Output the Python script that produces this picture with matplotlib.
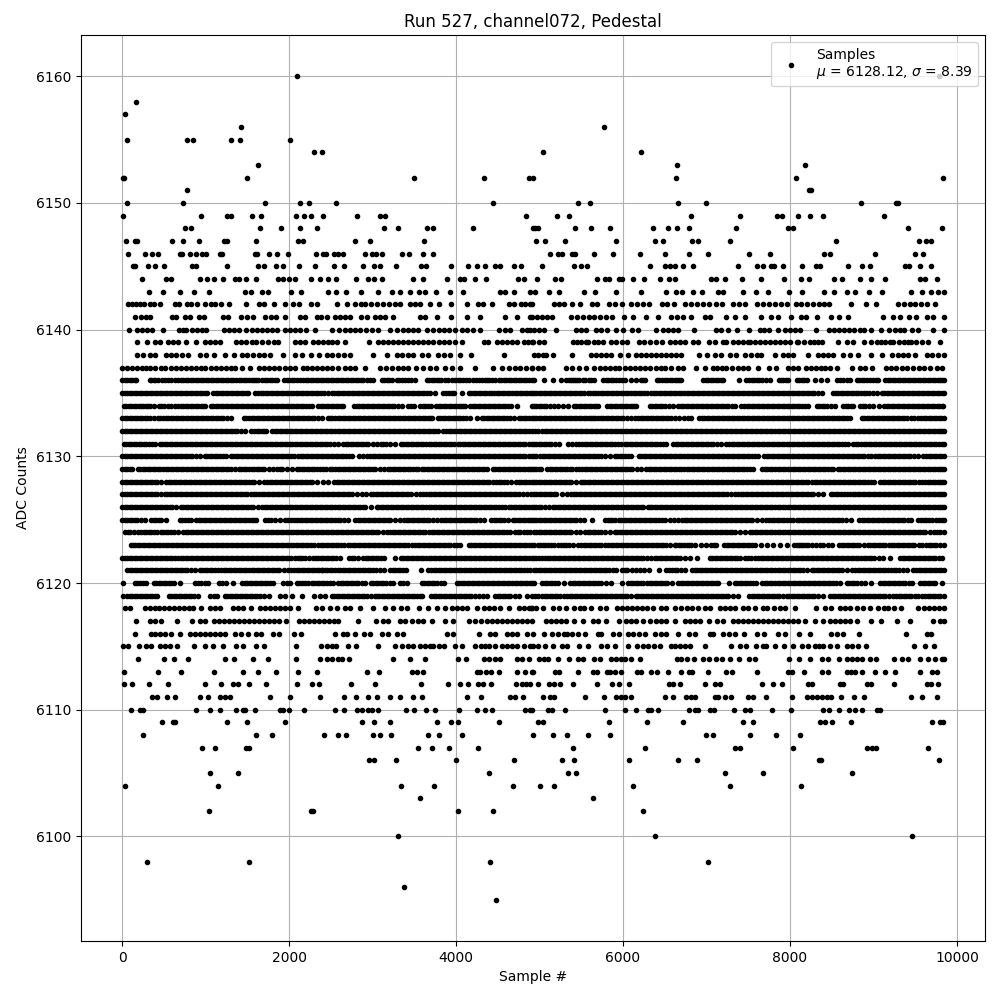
#!/usr/bin/env python
# -*- coding: utf-8 -*-

import numpy as np
import matplotlib
matplotlib.use('Agg')
import matplotlib.pyplot as plt

RUN = 527
CHANNEL = 'channel072'
MU = 6128.12
SIGMA = 8.39

# sample numbers, one list per ADC count
x_6160 = [2100, 9786]
x_6158 = [172]
x_6157 = [30]
x_6156 = [1420, 5766]
x_6155 = [53, 773, 845, 1300, 1409, 2009]
x_6154 = [2297, 2393, 5046, 6210]
x_6153 = [1625, 6642, 8178]
x_6152 = [5, 20, 1493, 3497, 4337, 4877, 4926, 6630, 8070, 9834]
x_6151 = [773, 8226, 8250]
x_6150 = [53, 725, 1709, 2129, 2237, 2561, 4445, 5466, 5610, 6654, 6990, 8850, 9270, 9294]
x_6149 = [5, 941, 1253, 1301, 1553, 1661, 2081, 2177, 2261, 2405, 2813, 3089, 3149, 4841,
          5214, 5358, 6810, 7398, 7842, 7902, 8094, 8238, 8394, 9126]
x_6148 = [749, 821, 1649, 1901, 2129, 2333, 3137, 3305, 3653, 3725, 4205, 4926, 4950, 4986,
          5430, 5622, 5838, 6354, 6534, 6642, 6786, 7350, 7974, 8034, 9414, 9822]
x_6147 = [41, 149, 173, 593, 725, 917, 1217, 1253, 1601, 2105, 2165, 2789, 2969, 3617,
          4962, 5070, 5310, 5910, 6378, 6474, 6822, 6894, 7278, 8550, 9546, 9630, 9690]
x_6146 = [65, 269, 353, 425, 689, 713, 809, 881, 953, 1001, 1169, 1193, 1589, 1613, 1757, 1853,
          1985, 2321, 2405, 2441, 2537, 2585, 2645, 2909, 2993, 3041, 3113, 3357, 3437, 3605, 3725,
          5130, 5226, 5274, 5394, 5430, 5658, 5874, 6198, 6498, 6786, 7014, 7506, 7758, 8406, 8478,
          9018, 9498, 9594]
x_6145 = [125, 149, 305, 389, 497, 833, 881, 1253, 1625, 1697, 1841, 1925, 2117, 2309, 2537, 2657,
          2885, 3017, 3089, 3281, 3581, 3641, 3941, 4145, 4253, 4349, 4469, 4529, 4697, 4781,
          5034, 5418, 5502, 5574, 6318, 6498, 6558, 6618, 6714, 6834, 7374, 7602, 7674, 7770, 7806,
          7914, 8142, 8310, 8358, 8694, 8862, 8958, 9378, 9426, 9558, 9690]
x_6144 = [233, 521, 581, 929, 1013, 1097, 1205, 1349, 1397, 1481, 1601, 1865, 1925, 1997, 2069,
          2257, 2369, 2465, 2561, 2801, 2945, 3017, 3113, 3485, 3605, 3893, 4049, 4097, 4229, 4361,
          4745, 4817, 4974, 5190, 5262, 5694, 5778, 5826, 5946, 5982, 6114, 6246, 6438, 6546, 6618,
          7050, 7110, 7218, 7422, 7650, 7926, 8130, 8226, 8526, 8622, 8838, 8970, 9138, 9558, 9618, 9762]
x_6143 = [317, 485, 689, 857, 1037, 1469, 1541, 1673, 1745, 2021, 2145, 2465, 2561, 2681, 2861,
          3065, 3233, 3329, 3449, 3557, 3629, 3761, 3929, 4085, 4529, 4589, 4697, 4889,
          4950, 5118, 5238, 5538, 5670, 5910, 6210, 6510, 6630, 6702, 6834, 6942, 7134, 7194, 7434,
          7590, 7734, 7986, 8142, 8406, 8526, 8682, 8778, 8946, 9102, 9450, 9582, 9690, 9774, 9843]
x_6142 = [65, 113, 161, 209, 257, 329, 377, 449, 629, 677, 773, 821, 893, 989, 1061, 1109, 1181,
          1277, 1481, 1637, 1697, 1817, 1949, 2045, 2117, 2261, 2333, 2573, 2693, 2789, 2861, 2909,
          2981, 3053, 3125, 3197, 3269, 3329, 3449, 3509, 3569, 3689, 3797, 3941, 4133, 4265, 4325,
          4433, 4637, 4697, 4781, 4829, 4889,
          4914, 5178, 5238, 5298, 5394, 5490, 5634, 5694, 5826, 5898, 5982, 6090, 6162, 6234, 6306,
          6462, 6522, 6606, 6738, 6810, 6882, 6954, 7026, 7110, 7182, 7314, 7386, 7458, 7602, 7674,
          7746, 7818, 7890, 7962, 8070, 8130, 8202, 8274, 8346, 8406, 8466, 8730, 8910, 9030, 9294,
          9366, 9438, 9498, 9570, 9642, 9738]
x_6141 = [149, 221, 281, 329, 593, 641, 749, 809, 917, 977, 1205, 1265, 1421, 1493, 1565, 1709,
          1781, 1841, 1949, 2129, 2189, 2333, 2381, 2453, 2549, 2609, 2669, 2729, 2861, 2933, 3029,
          3089, 3149, 3245, 3569, 3629, 3773, 3941, 4133, 4289, 4589, 4733, 4889,
          4914, 4974, 5034, 5094, 5154, 5382, 5454, 5526, 5598, 5658, 5718, 5790, 5862, 6006, 6114,
          6270, 6414, 6570, 6642, 6714, 6810, 6978, 7038, 7230, 7338, 7458, 7650, 7770, 7854, 8010,
          8130, 8190, 8322, 8490, 8586, 8694, 9114, 9234, 9318, 9426, 9510, 9642, 9714, 9840]
x_6140 = [77, 181, 240, 300, 357, 485, 677, 730, 769, 841, 900, 960, 1009, 1221, 1280, 1340, 1400,
          1489, 1561, 1620, 1680, 1740, 1800, 1860, 1949, 2009, 2069, 2129, 2197, 2309, 2509, 2597,
          2669, 2729, 2790, 2850, 2920, 2989, 3069, 3209, 3289, 3369, 3430, 3490, 3550, 3649, 3729,
          3790, 3850, 3920, 3989, 4069, 4130, 4200, 4289, 4517, 4589, 4649, 4789, 4850, 4889,
          4930, 4998, 5058, 5202, 5438, 5500, 5558, 5678, 5740, 5810, 5918, 5998, 6110, 6178, 6390,
          6478, 6540, 6600, 6658, 6846, 7118, 7170, 7258, 7362, 7506, 7638, 7690, 7746, 7850, 7938,
          8000, 8060, 8118, 8306, 8466, 8530, 8590, 8650, 8710, 8770, 8838, 8886, 8970, 9090, 9186,
          9258, 9318, 9370, 9458, 9538, 9714, 9840]
x_6139 = [181, 293, 389, 450, 549, 609, 670, 769, 889, 989, 1050, 1110, 1169, 1369, 1430, 1490, 1550,
          1609, 1680, 1750, 1820, 1869, 2069, 2130, 2189, 2289, 2350, 2410, 2469, 2509, 2570, 2669,
          2957, 3069, 3130, 3190, 3250, 3310, 3370, 3430, 3490, 3550, 3610, 3669, 3729, 3790, 3850,
          3920, 3990, 4069, 4329, 4381, 4489, 4550, 4610, 4669, 4729, 4809, 4860, 4909,
          4920, 4998, 5058, 5398, 5450, 5500, 5558, 5586, 5650, 5700, 5758, 5858, 5920, 5990, 6050,
          6186, 6250, 6320, 6390, 6466, 6558, 6620, 6680, 6740, 6838, 6898, 7026, 7106, 7198, 7238,
          7318, 7380, 7440, 7498, 7518, 7580, 7640, 7700, 7760, 7820, 7880, 7940, 8000, 8078, 8098,
          8170, 8238, 8290, 8340, 8386, 8578, 8678, 8758, 8886, 8970, 9038, 9090, 9140, 9198, 9238,
          9300, 9360, 9418, 9450, 9510, 9580, 9650, 9802]
x_6138 = [181, 249, 329, 389, 529, 590, 650, 720, 789, 929, 1009, 1097, 1229, 1341, 1437, 1500, 1570,
          1640, 1700, 1769, 1925, 2069, 2149, 2261, 2357, 2449, 2520, 2590, 2660, 2729, 3009, 3177,
          3289, 3350, 3420, 3490, 3590, 3669, 3789, 3860, 3930, 4049, 4181, 4573,
          4930, 4980, 5040, 5078, 5162, 5386, 5618, 5680, 5740, 5798, 5858, 5958, 6058, 6158, 6218,
          6280, 6340, 6400, 6460, 6520, 6580, 6640, 6698, 6906, 7006, 7106, 7178, 7286, 7358, 7458,
          7530, 7600, 7658, 7818, 7918, 7980, 8038, 8218, 8338, 8400, 8460, 8518, 8638, 8718, 8818,
          8966, 9098, 9226, 9290, 9350, 9418, 9498, 9638, 9700, 9770, 9843]
x_6137 = [0, 60, 120, 180, 240, 289, 329, 400, 469, 517, 580, 640, 700, 760, 820, 880, 949, 997, 1060,
          1120, 1180, 1240, 1300, 1357, 1437, 1529, 1641, 1700, 1760, 1820, 1880, 1950, 2009, 2069,
          2169, 2209, 2270, 2330, 2390, 2450, 2510, 2580, 2669, 2729, 2789, 2909, 3089, 3160, 3230,
          3300, 3369, 3421, 3517, 3600, 3689, 3757, 3869, 3949, 4049, 4221, 4437, 4549, 4629, 4700,
          4770, 4840, 4909,
          4910, 4980, 5038, 5318, 5386, 5470, 5558, 5658, 5718, 5778, 5840, 5898, 5946, 6018, 6080,
          6140, 6198, 6258, 6320, 6390, 6458, 6498, 6570, 6658, 6718, 6878, 6986, 7078, 7130, 7180,
          7238, 7306, 7378, 7440, 7498, 7618, 7746, 7826, 7970, 8030, 8098, 8186, 8250, 8310, 8370,
          8420, 8478, 8558, 8738, 8838, 8898, 8986, 9146, 9210, 9270, 9340, 9400, 9470, 9540, 9610,
          9680, 9758, 9826]
x_6136 = [0, 30, 60, 90, 120, 150, 169, 329, 350, 380, 400, 429, 481, 510, 550, 580, 629, 669, 700, 730,
          760, 790, 820, 850, 880, 910, 940, 970, 1000, 1030, 1060, 1090, 1120, 1150, 1180, 1210, 1240,
          1270, 1300, 1330, 1369, 1397, 1420, 1460, 1490, 1520, 1550, 1580, 1600, 1629, 1677, 1710,
          1740, 1770, 1800, 1830, 1861, 1937, 1970, 2000, 2030, 2060, 2090, 2129, 2169, 2200, 2230,
          2260, 2290, 2320, 2350, 2380, 2410, 2440, 2470, 2500, 2530, 2560, 2590, 2620, 2650, 2680,
          2710, 2740, 2770, 2800, 2829, 2861, 2890, 2930, 2970, 3009, 3109, 3140, 3170, 3200, 3229,
          3289, 3320, 3350, 3385, 3420, 3460, 3509, 3649, 3680, 3710, 3740, 3770, 3795, 3821, 3869,
          3900, 3949, 3989, 4020, 4050, 4085, 4120, 4160, 4197, 4237, 4270, 4309, 4349, 4375, 4400,
          4430, 4461, 4509, 4540, 4570, 4600, 4630, 4660, 4690, 4720, 4750, 4780, 4810, 4840, 4870, 4909,
          4930, 5050, 5162, 5258, 5318, 5350, 5380, 5405, 5430, 5454, 5478, 5518, 5550, 5590, 5620, 5658,
          5758, 5790, 5820, 5850, 5880, 5915, 5950, 5985, 6018, 6090, 6158, 6210, 6234, 6258, 6402,
          6436, 6470, 6500, 6530, 6560, 6590, 6620, 6650, 6675, 6698, 6958, 6990, 7020, 7050, 7080,
          7110, 7140, 7170, 7198, 7386, 7478, 7510, 7540, 7570, 7600, 7630, 7660, 7710, 7758, 7866,
          7893, 7920, 7950, 7978, 8078, 8110, 8140, 8170, 8198, 8298, 8370, 8438, 8558, 8600, 8640,
          8680, 8718, 8798, 8830, 8860, 8890, 8920, 8955, 8990, 9025, 9058, 9138, 9170, 9200, 9230,
          9260, 9290, 9320, 9350, 9380, 9410, 9440, 9470, 9500, 9530, 9560, 9590, 9620, 9650, 9680,
          9710, 9740, 9770, 9800, 9822, 9843]
x_6135 = [0, 30, 60, 90, 120, 150, 180, 210, 240, 270, 300, 330, 360, 390, 420, 450, 480, 509, 541, 570,
          600, 630, 660, 690, 720, 750, 780, 810, 840, 870, 900, 930, 960, 990, 1021, 1089, 1120, 1150,
          1180, 1210, 1240, 1270, 1300, 1330, 1360, 1390, 1420, 1450, 1480, 1509, 1597, 1630, 1660,
          1690, 1720, 1750, 1780, 1810, 1840, 1870, 1900, 1930, 1960, 1990, 2020, 2050, 2080, 2110,
          2140, 2170, 2200, 2230, 2260, 2290, 2320, 2350, 2380, 2420, 2461, 2509, 2540, 2570, 2600,
          2630, 2660, 2690, 2720, 2750, 2780, 2810, 2840, 2870, 2900, 2930, 2960, 2990, 3020, 3050,
          3080, 3110, 3140, 3170, 3200, 3230, 3260, 3290, 3320, 3350, 3380, 3410, 3440, 3470, 3500,
          3530, 3560, 3590, 3620, 3650, 3689, 3749, 3849, 3885, 3920, 3950, 3981, 4069, 4149, 4180,
          4210, 4240, 4270, 4300, 4330, 4360, 4390, 4420, 4449, 4489, 4520, 4550, 4580, 4610, 4640,
          4670, 4700, 4730, 4760, 4790, 4820, 4850, 4880, 4909, 4930, 4960, 4990, 5020, 5050, 5080,
          5110, 5140, 5170, 5200, 5230, 5260, 5290, 5320, 5350, 5380, 5410, 5440, 5470, 5500, 5538,
          5578, 5610, 5640, 5670, 5700, 5730, 5760, 5790, 5820, 5850, 5880, 5910, 5940, 5970, 6000,
          6030, 6060, 6098, 6130, 6160, 6190, 6220, 6250, 6290, 6330, 6370, 6400, 6430, 6460, 6490,
          6520, 6550, 6580, 6610, 6640, 6670, 6700, 6730, 6760, 6790, 6820, 6850, 6880, 6910, 6940,
          6970, 7000, 7030, 7060, 7090, 7120, 7150, 7180, 7210, 7240, 7270, 7300, 7330, 7360, 7390,
          7420, 7450, 7480, 7510, 7540, 7570, 7600, 7630, 7660, 7690, 7720, 7750, 7780, 7810, 7840,
          7870, 7900, 7930, 7960, 7990, 8020, 8050, 8080, 8110, 8140, 8170, 8200, 8230, 8260, 8290,
          8330, 8378, 8518, 8550, 8580, 8610, 8640, 8670, 8700, 8730, 8760, 8790, 8820, 8850, 8880,
          8910, 8940, 8990, 9038, 9098, 9130, 9160, 9190, 9220, 9250, 9280, 9310, 9340, 9370, 9400,
          9430, 9460, 9490, 9520, 9550, 9580, 9610, 9640, 9670, 9700, 9730, 9760, 9790, 9820, 9843]
x_6134 = [21, 50, 80, 110, 140, 170, 200, 225, 249, 289, 315, 340, 381, 437, 470, 500, 545, 589, 637, 670,
          700, 730, 760, 790, 820, 850, 880, 910, 940, 965, 989, 1061, 1090, 1120, 1150, 1180, 1210,
          1240, 1270, 1300, 1330, 1360, 1390, 1420, 1450, 1480, 1510, 1540, 1570, 1600, 1630, 1660,
          1690, 1720, 1750, 1780, 1810, 1840, 1870, 1900, 1930, 1960, 1990, 2020, 2050, 2080, 2110,
          2140, 2170, 2200, 2235, 2269, 2349, 2380, 2410, 2440, 2470, 2500, 2530, 2560, 2590, 2620,
          2649, 2781, 2810, 2840, 2870, 2900, 2930, 2960, 2990, 3020, 3050, 3080, 3110, 3140, 3170,
          3200, 3230, 3260, 3305, 3349, 3421, 3460, 3501, 3569, 3600, 3630, 3665, 3701, 3757, 3790,
          3820, 3850, 3880, 3910, 3940, 3970, 4000, 4030, 4060, 4085, 4109, 4169, 4200, 4230, 4260,
          4290, 4320, 4350, 4380, 4410, 4440, 4470, 4500, 4530, 4560, 4590, 4625, 4661, 4729, 4909,
          4930, 4960, 4990, 5020, 5050, 5080, 5130, 5178, 5226, 5278, 5346, 5410, 5440, 5470, 5500,
          5530, 5560, 5590, 5620, 5650, 5675, 5698, 5810, 5840, 5870, 5900, 5930, 5960, 5990, 6020,
          6050, 6080, 6110, 6135, 6158, 6318, 6350, 6380, 6410, 6440, 6470, 6500, 6550, 6598, 6658,
          6690, 6720, 6750, 6780, 6810, 6840, 6870, 6900, 6930, 6960, 6990, 7020, 7050, 7080, 7110,
          7140, 7170, 7200, 7230, 7260, 7300, 7338, 7418, 7450, 7480, 7510, 7540, 7570, 7600, 7630,
          7660, 7690, 7720, 7750, 7780, 7810, 7840, 7870, 7900, 7930, 7960, 7990, 8020, 8050, 8080,
          8110, 8140, 8180, 8218, 8318, 8350, 8380, 8410, 8440, 8490, 8538, 8638, 8670, 8700, 8730,
          8758, 8838, 8870, 8900, 8950, 8998, 9066, 9130, 9160, 9190, 9220, 9250, 9280, 9310, 9340,
          9370, 9400, 9430, 9460, 9490, 9520, 9550, 9580, 9610, 9640, 9670, 9700, 9730, 9760, 9790,
          9815, 9838]
x_6133 = [0, 30, 60, 90, 120, 150, 180, 210, 240, 270, 300, 340, 381, 429, 460, 490, 520, 550, 580, 610,
          640, 670, 700, 730, 760, 790, 820, 850, 880, 910, 940, 970, 1000, 1030, 1060, 1090, 1120, 1150,
          1180, 1210, 1260, 1309, 1461, 1490, 1520, 1550, 1580, 1610, 1640, 1670, 1700, 1730, 1760, 1790,
          1820, 1850, 1880, 1910, 1940, 1970, 2000, 2030, 2060, 2090, 2120, 2150, 2180, 2210, 2240, 2270,
          2300, 2345, 2389, 2461, 2490, 2520, 2550, 2580, 2610, 2640, 2670, 2700, 2730, 2760, 2790, 2820,
          2850, 2880, 2910, 2940, 2970, 3000, 3030, 3060, 3090, 3120, 3150, 3180, 3210, 3240, 3270, 3300,
          3330, 3360, 3390, 3420, 3450, 3480, 3510, 3540, 3570, 3600, 3630, 3660, 3690, 3717, 3781, 3810,
          3840, 3870, 3900, 3930, 3960, 3990, 4020, 4050, 4080, 4125, 4169, 4245, 4309, 4340, 4370, 4400,
          4430, 4460, 4490, 4520, 4550, 4580, 4610, 4650, 4689, 4749, 4780, 4810, 4840, 4870, 4909,
          4930, 4960, 4990, 5020, 5050, 5080, 5110, 5140, 5170, 5200, 5230, 5260, 5290, 5320, 5350, 5380,
          5410, 5440, 5470, 5500, 5530, 5560, 5590, 5618, 5642, 5670, 5700, 5730, 5760, 5790, 5820, 5850,
          5880, 5910, 5940, 5970, 6000, 6050, 6098, 6146, 6180, 6210, 6240, 6270, 6300, 6330, 6360, 6390,
          6420, 6450, 6480, 6510, 6540, 6570, 6620, 6666, 6730, 6775, 6818, 6906, 6940, 6970, 7000, 7030,
          7060, 7090, 7120, 7150, 7180, 7210, 7240, 7270, 7300, 7330, 7360, 7390, 7420, 7450, 7480, 7510,
          7540, 7570, 7600, 7630, 7660, 7690, 7720, 7750, 7780, 7810, 7840, 7870, 7900, 7930, 7960, 7990,
          8020, 8050, 8080, 8110, 8140, 8170, 8200, 8230, 8260, 8290, 8320, 8350, 8380, 8410, 8440, 8470,
          8500, 8530, 8560, 8590, 8620, 8650, 8685, 8718, 8858, 8890, 8920, 8950, 8980, 9010, 9040, 9070,
          9100, 9130, 9160, 9190, 9220, 9250, 9280, 9310, 9340, 9370, 9400, 9445, 9490, 9538, 9570, 9600,
          9630, 9660, 9690, 9720, 9750, 9780, 9810, 9843]
x_6132 = [0, 30, 60, 90, 120, 150, 180, 210, 240, 270, 300, 330, 360, 390, 420, 450, 480, 510, 540, 570,
          600, 630, 660, 690, 720, 750, 780, 810, 840, 870, 900, 930, 960, 990, 1020, 1050, 1080, 1110,
          1140, 1170, 1200, 1230, 1260, 1290, 1320, 1350, 1380, 1425, 1469, 1549, 1580, 1610, 1640, 1670,
          1700, 1729, 1797, 1830, 1860, 1890, 1920, 1950, 1980, 2010, 2040, 2070, 2100, 2130, 2160, 2190,
          2220, 2250, 2280, 2310, 2340, 2370, 2400, 2430, 2460, 2490, 2520, 2550, 2580, 2610, 2640, 2670,
          2700, 2730, 2760, 2790, 2820, 2850, 2880, 2910, 2940, 2970, 3000, 3030, 3060, 3090, 3120, 3150,
          3180, 3210, 3240, 3270, 3300, 3330, 3360, 3390, 3420, 3450, 3480, 3510, 3540, 3570, 3600, 3630,
          3660, 3690, 3720, 3750, 3781, 3845, 3880, 3910, 3940, 3970, 4000, 4030, 4060, 4090, 4120, 4150,
          4180, 4210, 4240, 4270, 4300, 4330, 4360, 4390, 4420, 4450, 4480, 4510, 4540, 4570, 4600, 4630,
          4660, 4690, 4720, 4750, 4780, 4810, 4840, 4870, 4909, 4950, 4978, 5026, 5060, 5090, 5120, 5150,
          5180, 5210, 5240, 5270, 5300, 5330, 5360, 5390, 5420, 5450, 5480, 5510, 5540, 5570, 5600, 5630,
          5660, 5690, 5720, 5750, 5780, 5810, 5840, 5870, 5900, 5930, 5960, 5990, 6020, 6050, 6080, 6110,
          6140, 6170, 6200, 6230, 6260, 6290, 6320, 6350, 6380, 6410, 6440, 6470, 6500, 6530, 6560, 6590,
          6620, 6650, 6680, 6710, 6740, 6770, 6800, 6830, 6860, 6890, 6920, 6950, 6980, 7010, 7040, 7070,
          7100, 7130, 7160, 7190, 7220, 7250, 7280, 7310, 7340, 7370, 7400, 7430, 7460, 7490, 7520, 7550,
          7580, 7610, 7640, 7670, 7700, 7730, 7760, 7790, 7820, 7850, 7880, 7910, 7940, 7970, 8000, 8030,
          8060, 8090, 8120, 8150, 8180, 8210, 8240, 8270, 8300, 8330, 8360, 8390, 8420, 8450, 8480, 8510,
          8540, 8570, 8600, 8630, 8660, 8690, 8720, 8750, 8780, 8810, 8840, 8870, 8900, 8930, 8960, 8990,
          9020, 9050, 9080, 9110, 9140, 9170, 9200, 9230, 9260, 9290, 9320, 9350, 9380, 9410, 9440, 9470,
          9500, 9530, 9560, 9590, 9620, 9650, 9680, 9710, 9740, 9770, 9800, 9825, 9843]
x_6131 = [21, 50, 80, 110, 140, 170, 200, 230, 260, 290, 320, 360, 397, 449, 480, 510, 540, 570, 600, 630,
          660, 690, 720, 750, 780, 810, 840, 870, 900, 930, 957, 989, 1020, 1050, 1080, 1110, 1140, 1170,
          1200, 1230, 1260, 1290, 1320, 1350, 1380, 1410, 1440, 1470, 1500, 1530, 1560, 1590, 1620, 1650,
          1680, 1710, 1740, 1770, 1800, 1830, 1860, 1890, 1920, 1950, 1980, 2010, 2040, 2070, 2100, 2130,
          2160, 2190, 2220, 2250, 2280, 2310, 2340, 2370, 2400, 2430, 2460, 2490, 2540, 2589, 2649, 2680,
          2710, 2740, 2770, 2800, 2830, 2860, 2890, 2920, 2950, 3000, 3049, 3101, 3130, 3160, 3209, 3269,
          3341, 3370, 3400, 3430, 3460, 3490, 3520, 3550, 3580, 3610, 3640, 3670, 3700, 3730, 3760, 3790,
          3820, 3850, 3880, 3910, 3940, 3980, 4021, 4049, 4080, 4110, 4140, 4170, 4200, 4230, 4260, 4290,
          4320, 4350, 4380, 4410, 4440, 4470, 4500, 4530, 4560, 4590, 4620, 4650, 4680, 4710, 4740, 4770,
          4800, 4830, 4870, 4909, 4930, 4960, 4990, 5020, 5050, 5080, 5110, 5140, 5190, 5238, 5338, 5390,
          5438, 5478, 5510, 5540, 5570, 5600, 5630, 5660, 5690, 5720, 5750, 5780, 5810, 5840, 5870, 5900,
          5940, 5978, 6018, 6050, 6080, 6110, 6140, 6170, 6200, 6230, 6260, 6290, 6320, 6350, 6380, 6410,
          6440, 6480, 6518, 6598, 6630, 6660, 6690, 6720, 6750, 6780, 6810, 6840, 6870, 6900, 6930, 6960,
          6990, 7020, 7050, 7080, 7130, 7178, 7238, 7270, 7300, 7330, 7360, 7390, 7420, 7450, 7480, 7510,
          7540, 7570, 7600, 7630, 7660, 7690, 7720, 7750, 7780, 7810, 7840, 7870, 7900, 7930, 7960, 7990,
          8020, 8050, 8080, 8110, 8140, 8170, 8200, 8230, 8260, 8290, 8320, 8350, 8380, 8410, 8440, 8470,
          8500, 8530, 8560, 8590, 8620, 8660, 8698, 8758, 8790, 8820, 8850, 8880, 8910, 8940, 8970, 9000,
          9030, 9060, 9090, 9120, 9150, 9180, 9210, 9240, 9270, 9300, 9330, 9360, 9390, 9420, 9450, 9480,
          9510, 9540, 9570, 9600, 9630, 9660, 9690, 9720, 9750, 9785, 9818, 9843]
x_6130 = [0, 30, 60, 90, 120, 150, 180, 210, 240, 270, 300, 330, 360, 390, 420, 450, 480, 510, 540, 570,
          600, 630, 660, 690, 720, 750, 780, 810, 840, 885, 929, 989, 1020, 1050, 1080, 1110, 1140, 1170,
          1210, 1249, 1301, 1330, 1360, 1390, 1420, 1450, 1480, 1510, 1540, 1570, 1600, 1630, 1660, 1690,
          1720, 1750, 1780, 1810, 1840, 1870, 1900, 1930, 1960, 1990, 2020, 2060, 2101, 2141, 2170, 2200,
          2230, 2260, 2290, 2320, 2350, 2380, 2410, 2440, 2470, 2500, 2530, 2560, 2590, 2620, 2650, 2680,
          2720, 2757, 2837, 2885, 2929, 2969, 3000, 3030, 3060, 3090, 3120, 3150, 3180, 3210, 3240, 3270,
          3300, 3330, 3360, 3390, 3420, 3450, 3480, 3510, 3540, 3570, 3600, 3630, 3660, 3690, 3720, 3750,
          3780, 3810, 3840, 3870, 3900, 3930, 3960, 3990, 4020, 4050, 4080, 4110, 4140, 4170, 4200, 4230,
          4260, 4290, 4320, 4350, 4380, 4410, 4440, 4470, 4500, 4530, 4560, 4590, 4620, 4650, 4680, 4710,
          4740, 4770, 4800, 4830, 4870, 4909, 4930, 4960, 5000, 5038, 5066, 5100, 5130, 5160, 5190, 5220,
          5250, 5280, 5310, 5340, 5370, 5400, 5430, 5460, 5490, 5520, 5550, 5580, 5610, 5640, 5670, 5700,
          5730, 5785, 5838, 5898, 5930, 5960, 5990, 6020, 6060, 6098, 6186, 6220, 6250, 6280, 6310, 6340,
          6370, 6400, 6430, 6460, 6490, 6520, 6550, 6580, 6610, 6640, 6670, 6700, 6730, 6760, 6790, 6820,
          6850, 6880, 6910, 6940, 6970, 7000, 7030, 7060, 7090, 7120, 7150, 7180, 7210, 7240, 7270, 7300,
          7330, 7360, 7390, 7420, 7450, 7480, 7510, 7540, 7580, 7618, 7686, 7720, 7750, 7780, 7810, 7840,
          7870, 7900, 7930, 7960, 7990, 8020, 8050, 8080, 8110, 8140, 8170, 8200, 8230, 8260, 8290, 8320,
          8350, 8380, 8410, 8440, 8470, 8500, 8530, 8560, 8590, 8620, 8650, 8680, 8710, 8740, 8770, 8800,
          8830, 8860, 8890, 8930, 8970, 9018, 9050, 9080, 9110, 9140, 9170, 9200, 9230, 9260, 9290, 9320,
          9350, 9380, 9410, 9440, 9485, 9530, 9598, 9630, 9660, 9690, 9720, 9750, 9780, 9810, 9843]
x_6129 = [0, 30, 60, 90, 117, 189, 220, 250, 280, 310, 340, 370, 400, 430, 460, 490, 520, 550, 580, 610,
          640, 670, 700, 730, 760, 790, 820, 850, 880, 910, 940, 970, 1000, 1030, 1060, 1090, 1120, 1150,
          1180, 1210, 1240, 1270, 1310, 1349, 1397, 1430, 1460, 1490, 1520, 1550, 1580, 1610, 1640, 1670,
          1700, 1755, 1809, 1857, 1890, 1920, 1980, 2037, 2089, 2120, 2150, 2180, 2210, 2240, 2270, 2300,
          2329, 2369, 2405, 2441, 2489, 2520, 2550, 2580, 2610, 2640, 2670, 2700, 2730, 2760, 2790, 2820,
          2850, 2880, 2910, 2940, 2970, 3000, 3030, 3085, 3141, 3181, 3210, 3240, 3270, 3300, 3330, 3360,
          3390, 3420, 3450, 3480, 3515, 3549, 3589, 3620, 3650, 3680, 3710, 3740, 3770, 3800, 3830, 3860,
          3890, 3920, 3950, 3980, 4010, 4040, 4070, 4100, 4130, 4160, 4190, 4220, 4250, 4280, 4310, 4340,
          4369, 4437, 4470, 4500, 4530, 4560, 4590, 4620, 4650, 4680, 4710, 4740, 4770, 4800, 4830, 4860,
          4885, 4909, 4930, 4960, 4990, 5018, 5090, 5120, 5150, 5180, 5210, 5240, 5270, 5300, 5330, 5360,
          5390, 5435, 5478, 5506, 5540, 5570, 5600, 5630, 5660, 5690, 5720, 5750, 5780, 5810, 5840, 5870,
          5900, 5930, 5960, 5990, 6020, 6050, 6080, 6110, 6165, 6218, 6278, 6310, 6340, 6370, 6400, 6430,
          6460, 6490, 6520, 6550, 6580, 6610, 6640, 6670, 6700, 6730, 6760, 6790, 6820, 6850, 6880, 6910,
          6940, 6970, 7000, 7030, 7060, 7090, 7120, 7150, 7180, 7210, 7240, 7270, 7300, 7330, 7360, 7390,
          7420, 7450, 7480, 7520, 7558, 7666, 7700, 7730, 7760, 7790, 7820, 7850, 7880, 7910, 7940, 7970,
          8000, 8030, 8060, 8090, 8120, 8150, 8180, 8210, 8240, 8270, 8300, 8330, 8360, 8390, 8420, 8450,
          8485, 8518, 8570, 8600, 8630, 8660, 8690, 8720, 8750, 8780, 8810, 8840, 8870, 8900, 8930, 8960,
          8990, 9020, 9050, 9080, 9110, 9140, 9170, 9200, 9230, 9260, 9290, 9320, 9350, 9380, 9410, 9440,
          9470, 9500, 9530, 9560, 9590, 9620, 9650, 9680, 9710, 9740, 9770, 9800, 9825, 9843]
x_6128 = [0, 30, 60, 90, 120, 150, 180, 210, 240, 270, 300, 330, 360, 390, 420, 470, 521, 557, 590, 620,
          650, 680, 710, 740, 770, 800, 830, 860, 890, 920, 950, 980, 1010, 1040, 1070, 1100, 1130, 1160,
          1190, 1220, 1250, 1280, 1310, 1340, 1370, 1400, 1430, 1460, 1490, 1520, 1550, 1580, 1640, 1701,
          1737, 1770, 1800, 1830, 1860, 1890, 1920, 1950, 1980, 2010, 2040, 2070, 2100, 2130, 2160, 2190,
          2220, 2250, 2280, 2340, 2401, 2461, 2541, 2570, 2600, 2630, 2660, 2690, 2720, 2750, 2780, 2810,
          2840, 2870, 2900, 2930, 2960, 2990, 3020, 3050, 3080, 3110, 3140, 3170, 3200, 3230, 3260, 3290,
          3320, 3350, 3380, 3410, 3440, 3470, 3500, 3530, 3560, 3590, 3620, 3650, 3680, 3710, 3740, 3770,
          3800, 3830, 3860, 3890, 3920, 3950, 3980, 4010, 4040, 4070, 4100, 4130, 4160, 4190, 4220, 4250,
          4280, 4310, 4340, 4370, 4400, 4440, 4481, 4509, 4540, 4570, 4615, 4661, 4717, 4750, 4780, 4810,
          4840, 4875, 4909, 4930, 4960, 4990, 5020, 5050, 5080, 5110, 5140, 5170, 5200, 5230, 5260, 5290,
          5320, 5350, 5380, 5440, 5498, 5518, 5550, 5580, 5610, 5640, 5670, 5700, 5730, 5760, 5790, 5820,
          5850, 5880, 5910, 5940, 5970, 6000, 6030, 6060, 6090, 6120, 6150, 6180, 6210, 6240, 6270, 6300,
          6330, 6360, 6390, 6420, 6450, 6480, 6510, 6540, 6570, 6600, 6630, 6660, 6690, 6720, 6750, 6780,
          6810, 6840, 6870, 6900, 6930, 6960, 6990, 7020, 7050, 7080, 7110, 7140, 7170, 7200, 7230, 7260,
          7290, 7320, 7350, 7380, 7410, 7440, 7470, 7500, 7530, 7560, 7590, 7620, 7650, 7680, 7710, 7740,
          7770, 7800, 7830, 7860, 7890, 7920, 7950, 7980, 8010, 8040, 8070, 8100, 8130, 8160, 8190, 8220,
          8260, 8298, 8326, 8360, 8390, 8420, 8450, 8480, 8510, 8540, 8570, 8600, 8630, 8660, 8690, 8720,
          8750, 8780, 8810, 8840, 8870, 8900, 8930, 8970, 9010, 9078, 9110, 9140, 9170, 9200, 9230, 9260,
          9290, 9320, 9350, 9380, 9410, 9440, 9470, 9500, 9540, 9578, 9618, 9650, 9680, 9710, 9740, 9770,
          9800, 9825, 9843]
x_6127 = [0, 30, 60, 90, 120, 150, 180, 210, 240, 270, 300, 330, 360, 390, 420, 470, 517, 541, 570, 600,
          630, 660, 690, 720, 750, 780, 810, 840, 870, 900, 930, 960, 990, 1020, 1050, 1080, 1110, 1140,
          1170, 1200, 1230, 1260, 1290, 1320, 1350, 1380, 1410, 1440, 1470, 1500, 1540, 1581, 1609, 1640,
          1670, 1700, 1730, 1760, 1790, 1820, 1850, 1880, 1910, 1940, 1970, 2000, 2030, 2060, 2090, 2120,
          2150, 2180, 2210, 2240, 2270, 2300, 2330, 2360, 2390, 2420, 2450, 2480, 2510, 2540, 2570, 2600,
          2630, 2660, 2690, 2720, 2750, 2810, 2869, 2921, 2981, 3010, 3040, 3070, 3100, 3130, 3160, 3190,
          3220, 3250, 3280, 3310, 3340, 3370, 3400, 3430, 3460, 3515, 3569, 3609, 3640, 3670, 3700, 3730,
          3760, 3790, 3820, 3850, 3880, 3910, 3940, 3970, 4000, 4030, 4060, 4090, 4120, 4150, 4180, 4210,
          4240, 4270, 4300, 4330, 4360, 4390, 4420, 4450, 4480, 4510, 4540, 4570, 4600, 4630, 4660, 4690,
          4720, 4750, 4800, 4849, 4898, 4930, 4960, 4990, 5020, 5050, 5080, 5110, 5140, 5170, 5200, 5265,
          5330, 5378, 5410, 5440, 5470, 5500, 5530, 5560, 5590, 5620, 5650, 5680, 5710, 5740, 5770, 5800,
          5830, 5860, 5890, 5920, 5950, 5980, 6010, 6040, 6070, 6100, 6130, 6160, 6190, 6220, 6250, 6280,
          6310, 6340, 6370, 6400, 6430, 6460, 6490, 6520, 6550, 6580, 6610, 6640, 6670, 6700, 6730, 6760,
          6790, 6820, 6850, 6880, 6910, 6940, 6970, 7000, 7030, 7060, 7090, 7120, 7150, 7180, 7210, 7240,
          7290, 7346, 7378, 7410, 7440, 7470, 7500, 7530, 7560, 7590, 7620, 7650, 7680, 7710, 7740, 7770,
          7800, 7830, 7860, 7890, 7920, 7950, 7980, 8010, 8040, 8070, 8100, 8130, 8160, 8190, 8220, 8250,
          8280, 8340, 8398, 8490, 8520, 8550, 8580, 8610, 8645, 8678, 8718, 8750, 8780, 8810, 8840, 8870,
          8900, 8930, 8960, 8990, 9020, 9050, 9080, 9110, 9140, 9170, 9200, 9230, 9260, 9290, 9320, 9350,
          9380, 9410, 9440, 9470, 9500, 9530, 9560, 9590, 9620, 9650, 9680, 9710, 9740, 9770, 9800, 9825, 9843]
x_6126 = [0, 30, 60, 90, 120, 150, 180, 210, 240, 270, 300, 330, 360, 390, 420, 450, 480, 510, 540, 570,
          600, 650, 701, 729, 760, 790, 820, 850, 880, 910, 940, 970, 1000, 1030, 1060, 1090, 1120, 1150,
          1180, 1210, 1240, 1270, 1300, 1330, 1360, 1390, 1420, 1450, 1480, 1510, 1540, 1570, 1625, 1677,
          1709, 1740, 1770, 1800, 1830, 1860, 1890, 1920, 1950, 1980, 2010, 2040, 2070, 2100, 2130, 2160,
          2190, 2220, 2250, 2280, 2310, 2340, 2370, 2400, 2430, 2460, 2490, 2520, 2550, 2580, 2610, 2640,
          2670, 2700, 2730, 2760, 2790, 2820, 2850, 2880, 2910, 2980, 3049, 3069, 3100, 3130, 3160, 3190,
          3220, 3250, 3280, 3310, 3340, 3370, 3400, 3430, 3460, 3490, 3520, 3550, 3580, 3610, 3640, 3670,
          3700, 3730, 3760, 3790, 3820, 3850, 3880, 3910, 3940, 3970, 4000, 4030, 4060, 4090, 4120, 4150,
          4180, 4210, 4240, 4270, 4300, 4330, 4360, 4390, 4420, 4450, 4480, 4510, 4550, 4589, 4629, 4660,
          4690, 4720, 4750, 4780, 4810, 4840, 4870, 4909, 4930, 4960, 4990, 5020, 5070, 5118, 5158, 5190,
          5220, 5250, 5280, 5310, 5340, 5370, 5400, 5430, 5460, 5490, 5520, 5550, 5580, 5610, 5640, 5670,
          5700, 5730, 5760, 5790, 5820, 5850, 5880, 5910, 5940, 5970, 6000, 6030, 6060, 6090, 6120, 6150,
          6180, 6210, 6240, 6298, 6318, 6350, 6380, 6410, 6440, 6470, 6500, 6530, 6560, 6590, 6620, 6650,
          6680, 6710, 6740, 6770, 6800, 6830, 6860, 6890, 6920, 6950, 6978, 7006, 7040, 7070, 7100, 7130,
          7160, 7190, 7220, 7250, 7280, 7310, 7340, 7370, 7400, 7430, 7460, 7490, 7520, 7550, 7580, 7610,
          7640, 7670, 7700, 7730, 7760, 7790, 7820, 7850, 7880, 7910, 7940, 7970, 8000, 8030, 8060, 8090,
          8120, 8150, 8180, 8210, 8240, 8270, 8300, 8330, 8360, 8390, 8420, 8450, 8480, 8510, 8540, 8570,
          8600, 8630, 8660, 8690, 8720, 8750, 8780, 8810, 8840, 8870, 8900, 8930, 8960, 8990, 9020, 9050,
          9080, 9110, 9140, 9170, 9200, 9230, 9260, 9290, 9320, 9350, 9380, 9410, 9440, 9470, 9500, 9530,
          9560, 9590, 9620, 9650, 9680, 9710, 9740, 9770, 9800, 9825, 9843]
x_6125 = [0, 30, 60, 90, 120, 150, 180, 225, 269, 349, 380, 410, 440, 470, 529, 689, 720, 750, 790, 829,
          889, 920, 950, 980, 1010, 1040, 1070, 1100, 1130, 1160, 1190, 1220, 1250, 1280, 1310, 1340, 1370,
          1400, 1430, 1460, 1490, 1520, 1550, 1580, 1609, 1717, 1750, 1780, 1835, 1889, 1957, 1990, 2020,
          2055, 2089, 2129, 2160, 2190, 2220, 2250, 2280, 2310, 2340, 2370, 2400, 2430, 2460, 2490, 2520,
          2550, 2580, 2610, 2660, 2709, 2789, 2820, 2850, 2880, 2910, 2940, 2970, 3000, 3030, 3060, 3090,
          3120, 3150, 3180, 3210, 3270, 3329, 3381, 3410, 3440, 3470, 3500, 3530, 3560, 3590, 3620, 3650,
          3680, 3725, 3769, 3821, 3850, 3880, 3910, 3940, 3970, 4000, 4030, 4060, 4090, 4120, 4150, 4180,
          4210, 4240, 4285, 4329, 4421, 4450, 4480, 4510, 4540, 4580, 4621, 4681, 4710, 4740, 4770, 4800,
          4830, 4860, 4885, 4909, 4930, 4960, 4990, 5020, 5050, 5080, 5110, 5140, 5170, 5200, 5230, 5260,
          5290, 5320, 5350, 5380, 5410, 5440, 5490, 5538, 5626, 5786, 5815, 5840, 5870, 5898, 5946, 5980,
          6010, 6040, 6070, 6100, 6130, 6160, 6190, 6220, 6250, 6280, 6310, 6340, 6370, 6400, 6430, 6465,
          6498, 6558, 6610, 6658, 6706, 6740, 6770, 6800, 6830, 6860, 6890, 6920, 6950, 6980, 7010, 7040,
          7070, 7100, 7130, 7160, 7190, 7220, 7250, 7280, 7310, 7340, 7370, 7400, 7430, 7460, 7490, 7520,
          7550, 7610, 7666, 7718, 7750, 7780, 7810, 7840, 7870, 7900, 7930, 7960, 8000, 8038, 8078, 8110,
          8140, 8170, 8200, 8230, 8260, 8290, 8320, 8350, 8380, 8410, 8440, 8470, 8500, 8530, 8560, 8590,
          8620, 8675, 8730, 8826, 8860, 8890, 8920, 8950, 8980, 9010, 9040, 9070, 9100, 9130, 9160, 9190,
          9220, 9250, 9280, 9310, 9340, 9370, 9410, 9450, 9538, 9570, 9600, 9630, 9660, 9700, 9746, 9786,
          9815, 9843]
x_6124 = [37, 70, 100, 145, 189, 229, 260, 290, 320, 350, 385, 421, 461, 490, 520, 550, 580, 625, 669, 729,
          760, 790, 820, 850, 880, 910, 940, 970, 1000, 1030, 1060, 1090, 1120, 1150, 1180, 1210, 1240,
          1270, 1300, 1330, 1360, 1390, 1420, 1450, 1480, 1510, 1540, 1570, 1600, 1630, 1660, 1690, 1720,
          1750, 1780, 1810, 1840, 1870, 1900, 1930, 1960, 1990, 2020, 2050, 2080, 2110, 2140, 2170, 2200,
          2230, 2260, 2290, 2320, 2350, 2380, 2410, 2440, 2470, 2500, 2530, 2560, 2590, 2620, 2650, 2680,
          2710, 2740, 2770, 2800, 2830, 2860, 2890, 2920, 2950, 2980, 3010, 3040, 3070, 3120, 3169, 3209,
          3240, 3270, 3300, 3330, 3360, 3390, 3420, 3450, 3480, 3510, 3540, 3570, 3600, 3629, 3677, 3710,
          3740, 3770, 3800, 3830, 3860, 3890, 3920, 3950, 3980, 4010, 4040, 4070, 4100, 4130, 4160, 4190,
          4220, 4250, 4280, 4310, 4340, 4370, 4400, 4430, 4460, 4490, 4520, 4550, 4580, 4615, 4649, 4709,
          4740, 4770, 4810, 4849, 4889, 4930, 4960, 4990, 5020, 5050, 5080, 5110, 5140, 5170, 5200, 5230,
          5260, 5290, 5320, 5350, 5380, 5435, 5490, 5546, 5580, 5610, 5640, 5670, 5700, 5730, 5785, 5838,
          5898, 5930, 5960, 5990, 6020, 6050, 6080, 6110, 6140, 6170, 6200, 6230, 6260, 6290, 6320, 6350,
          6380, 6410, 6440, 6470, 6500, 6530, 6560, 6590, 6620, 6650, 6680, 6710, 6740, 6770, 6800, 6830,
          6860, 6890, 6920, 6950, 6980, 7010, 7040, 7070, 7100, 7130, 7160, 7190, 7220, 7250, 7280, 7310,
          7340, 7400, 7458, 7518, 7550, 7580, 7610, 7640, 7670, 7700, 7730, 7760, 7790, 7820, 7850, 7880,
          7910, 7940, 7970, 8000, 8030, 8060, 8090, 8120, 8150, 8180, 8210, 8240, 8270, 8300, 8330, 8360,
          8390, 8420, 8450, 8480, 8510, 8540, 8570, 8600, 8630, 8660, 8690, 8720, 8750, 8780, 8810, 8840,
          8870, 8900, 8930, 8960, 8990, 9020, 9050, 9080, 9110, 9140, 9170, 9200, 9230, 9260, 9290, 9320,
          9350, 9380, 9410, 9440, 9470, 9500, 9530, 9560, 9590, 9620, 9675, 9730, 9758, 9800, 9843]
x_6123 = [101, 130, 160, 190, 220, 250, 280, 310, 340, 370, 400, 430, 460, 490, 520, 550, 580, 610, 640, 670,
          700, 730, 760, 790, 820, 850, 880, 910, 940, 970, 1000, 1030, 1060, 1090, 1120, 1150, 1180, 1210,
          1240, 1270, 1300, 1330, 1360, 1390, 1420, 1450, 1480, 1510, 1540, 1570, 1600, 1630, 1660, 1690,
          1720, 1750, 1780, 1810, 1840, 1870, 1900, 1930, 1960, 1990, 2020, 2050, 2080, 2110, 2140, 2170,
          2200, 2230, 2260, 2300, 2341, 2381, 2410, 2440, 2470, 2500, 2530, 2560, 2590, 2620, 2660, 2701,
          2729, 2760, 2790, 2820, 2850, 2880, 2910, 2940, 2970, 3000, 3030, 3060, 3090, 3120, 3150, 3180,
          3210, 3240, 3270, 3300, 3330, 3360, 3390, 3430, 3469, 3509, 3540, 3570, 3600, 3630, 3660, 3690,
          3720, 3750, 3780, 3810, 3840, 3870, 3900, 3930, 3970, 4009, 4049, 4149, 4180, 4210, 4240, 4270,
          4300, 4330, 4360, 4390, 4420, 4450, 4480, 4510, 4540, 4570, 4600, 4630, 4660, 4690, 4720, 4750,
          4780, 4810, 4840, 4870, 4909, 4930, 4978, 5010, 5040, 5070, 5100, 5135, 5170, 5226, 5260, 5290,
          5320, 5350, 5405, 5458, 5498, 5530, 5560, 5590, 5620, 5650, 5680, 5710, 5738, 5786, 5820, 5850,
          5880, 5910, 5940, 5970, 6000, 6030, 6060, 6090, 6120, 6150, 6180, 6210, 6240, 6270, 6300, 6330,
          6360, 6390, 6420, 6450, 6480, 6510, 6560, 6618, 6638, 6670, 6700, 6730, 6760, 6790, 6818, 6858,
          6930, 6998, 7058, 7090, 7118, 7206, 7240, 7270, 7300, 7330, 7360, 7390, 7420, 7450, 7480, 7510,
          7550, 7586, 7658, 7726, 7800, 7878, 7958, 8050, 8080, 8110, 8135, 8160, 8190, 8218, 8258, 8310,
          8358, 8398, 8450, 8506, 8586, 8620, 8650, 8680, 8710, 8740, 8770, 8800, 8830, 8880, 8930, 8958,
          8990, 9020, 9050, 9080, 9110, 9140, 9180, 9218, 9246, 9280, 9310, 9340, 9370, 9400, 9430, 9460,
          9490, 9540, 9586, 9630, 9660, 9690, 9720, 9750, 9800, 9843]
x_6122 = [0, 30, 60, 90, 120, 150, 180, 210, 240, 270, 300, 330, 360, 390, 420, 450, 480, 510, 540, 570,
          600, 635, 669, 701, 730, 760, 790, 820, 850, 880, 910, 940, 970, 1000, 1030, 1060, 1090, 1120,
          1150, 1180, 1210, 1240, 1270, 1300, 1330, 1360, 1390, 1420, 1450, 1480, 1510, 1540, 1570, 1600,
          1630, 1660, 1690, 1720, 1750, 1780, 1810, 1840, 1870, 1900, 1930, 1960, 1990, 2020, 2065, 2109,
          2129, 2160, 2190, 2240, 2289, 2321, 2350, 2380, 2410, 2440, 2470, 2500, 2530, 2561, 2609, 2721,
          2750, 2780, 2829, 2889, 2920, 2950, 2980, 3010, 3040, 3070, 3105, 3141, 3269, 3341, 3370, 3400,
          3430, 3460, 3490, 3520, 3550, 3580, 3610, 3640, 3670, 3700, 3730, 3760, 3790, 3820, 3850, 3880,
          3910, 3940, 3970, 4000, 4030, 4060, 4090, 4120, 4150, 4180, 4210, 4240, 4270, 4300, 4330, 4360,
          4390, 4420, 4450, 4480, 4510, 4540, 4570, 4600, 4630, 4660, 4690, 4720, 4750, 4780, 4810, 4840,
          4875, 4909, 4930, 4960, 4995, 5026, 5066, 5100, 5130, 5160, 5190, 5220, 5250, 5280, 5310, 5340,
          5370, 5398, 5430, 5460, 5490, 5520, 5550, 5580, 5610, 5640, 5670, 5700, 5730, 5760, 5790, 5820,
          5850, 5880, 5910, 5940, 5970, 6000, 6030, 6060, 6090, 6120, 6150, 6180, 6210, 6240, 6285, 6330,
          6378, 6410, 6440, 6470, 6500, 6530, 6560, 6590, 6620, 6650, 6680, 6740, 6798, 6886, 7038, 7070,
          7100, 7130, 7160, 7190, 7220, 7250, 7280, 7310, 7340, 7370, 7398, 7466, 7500, 7530, 7586, 7618,
          7650, 7680, 7710, 7740, 7770, 7800, 7830, 7860, 7890, 7920, 7950, 7980, 8010, 8040, 8070, 8100,
          8130, 8160, 8190, 8220, 8250, 8280, 8310, 8340, 8370, 8400, 8430, 8460, 8490, 8520, 8550, 8580,
          8610, 8640, 8670, 8700, 8730, 8760, 8790, 8820, 8850, 8880, 8910, 8940, 8970, 9000, 9060, 9118,
          9198, 9318, 9350, 9380, 9410, 9440, 9470, 9500, 9530, 9560, 9590, 9620, 9650, 9680, 9710, 9740,
          9785, 9826]
x_6121 = [61, 90, 120, 150, 180, 210, 240, 270, 300, 330, 360, 390, 420, 450, 480, 510, 540, 570, 600, 630,
          660, 690, 720, 750, 780, 825, 869, 929, 960, 990, 1020, 1050, 1080, 1110, 1150, 1189, 1221, 1250,
          1280, 1310, 1340, 1370, 1400, 1430, 1460, 1490, 1520, 1550, 1580, 1610, 1640, 1670, 1700, 1730,
          1760, 1790, 1820, 1850, 1880, 1935, 1989, 2029, 2060, 2090, 2120, 2150, 2180, 2210, 2240, 2270,
          2300, 2330, 2360, 2389, 2397, 2430, 2460, 2490, 2520, 2550, 2580, 2610, 2640, 2670, 2700, 2730,
          2760, 2790, 2820, 2850, 2880, 2910, 2940, 2970, 3000, 3045, 3089, 3137, 3209, 3240, 3270, 3300,
          3330, 3365, 3397, 3581, 3669, 3700, 3730, 3760, 3790, 3820, 3850, 3880, 3910, 3940, 3970, 4000,
          4030, 4060, 4090, 4120, 4150, 4180, 4210, 4240, 4270, 4300, 4330, 4360, 4390, 4420, 4450, 4480,
          4510, 4540, 4570, 4600, 4630, 4660, 4690, 4720, 4750, 4780, 4810, 4850, 4889, 4930, 4960, 4990,
          5020, 5050, 5080, 5110, 5140, 5170, 5200, 5230, 5260, 5290, 5320, 5350, 5380, 5410, 5440, 5470,
          5500, 5530, 5560, 5590, 5620, 5650, 5680, 5710, 5740, 5770, 5800, 5830, 5875, 5918, 5990, 6020,
          6050, 6105, 6158, 6198, 6250, 6306, 6426, 6518, 6555, 6590, 6620, 6650, 6700, 6746, 6826, 6860,
          6890, 6920, 6950, 6980, 7010, 7040, 7070, 7100, 7130, 7160, 7190, 7220, 7250, 7280, 7310, 7340,
          7370, 7400, 7430, 7460, 7490, 7520, 7550, 7580, 7610, 7640, 7670, 7700, 7730, 7760, 7790, 7820,
          7850, 7880, 7910, 7940, 7970, 8000, 8030, 8060, 8090, 8125, 8158, 8198, 8258, 8290, 8320, 8350,
          8380, 8410, 8440, 8470, 8500, 8530, 8560, 8590, 8620, 8680, 8738, 8778, 8810, 8840, 8870, 8900,
          8930, 8960, 8990, 9020, 9050, 9080, 9110, 9138, 9178, 9210, 9240, 9270, 9300, 9350, 9398, 9478,
          9510, 9540, 9570, 9600, 9630, 9660, 9690, 9720, 9750, 9780, 9810, 9843]
x_6120 = [9, 149, 180, 210, 250, 289, 381, 410, 440, 470, 500, 530, 560, 590, 621, 689, 877, 915, 950, 990,
          1029, 1157, 1200, 1249, 1329, 1437, 1470, 1500, 1530, 1560, 1590, 1620, 1650, 1680, 1710, 1740,
          1775, 1809, 1929, 1970, 2009, 2089, 2120, 2150, 2190, 2229, 2269, 2300, 2330, 2360, 2390, 2420,
          2450, 2490, 2529, 2589, 2620, 2650, 2680, 2710, 2740, 2770, 2800, 2830, 2870, 2909, 2981, 3010,
          3040, 3070, 3100, 3130, 3160, 3205, 3249, 3329, 3370, 3409, 3589, 3620, 3650, 3680, 3710, 3740,
          3770, 3815, 3861, 4009, 4040, 4070, 4100, 4130, 4160, 4190, 4220, 4250, 4280, 4310, 4340, 4370,
          4400, 4430, 4460, 4490, 4520, 4550, 4580, 4610, 4640, 4670, 4700, 4730, 4760, 4790, 4820, 4850,
          4880, 4909, 4930, 5026, 5060, 5090, 5120, 5150, 5190, 5226, 5298, 5370, 5400, 5430, 5460, 5490,
          5520, 5550, 5580, 5610, 5640, 5670, 5700, 5730, 5790, 5850, 5986, 6058, 6090, 6120, 6150, 6180,
          6210, 6238, 6290, 6320, 6350, 6380, 6410, 6440, 6470, 6500, 6530, 6586, 6658, 6690, 6720, 6750,
          6780, 6810, 6840, 6870, 6900, 6930, 6960, 6990, 7020, 7050, 7080, 7110, 7138, 7266, 7338, 7370,
          7400, 7430, 7460, 7490, 7520, 7560, 7598, 7666, 7700, 7730, 7760, 7790, 7820, 7850, 7880, 7910,
          7940, 7970, 8000, 8030, 8060, 8090, 8120, 8150, 8180, 8210, 8240, 8270, 8300, 8330, 8360, 8390,
          8420, 8450, 8480, 8510, 8555, 8598, 8678, 8710, 8740, 8770, 8800, 8850, 8898, 8966, 9078, 9110,
          9140, 9170, 9200, 9230, 9260, 9290, 9320, 9350, 9380, 9420, 9458, 9558, 9590, 9620, 9650, 9680,
          9710, 9738, 9826]
x_6119 = [5, 60, 90, 120, 150, 180, 210, 240, 270, 300, 330, 360, 390, 421, 557, 590, 620, 650, 680, 710,
          740, 770, 800, 830, 860, 909, 1049, 1100, 1141, 1229, 1260, 1290, 1320, 1350, 1380, 1410, 1440,
          1470, 1500, 1530, 1560, 1590, 1620, 1650, 1700, 1757, 1889, 1950, 2037, 2149, 2301, 2370, 2429,
          2509, 2540, 2570, 2600, 2630, 2660, 2690, 2720, 2750, 2780, 2810, 2840, 2870, 2900, 2930, 2980,
          3029, 3049, 3080, 3110, 3140, 3170, 3200, 3230, 3260, 3290, 3320, 3350, 3380, 3410, 3440, 3470,
          3500, 3530, 3565, 3597, 3701, 3730, 3760, 3790, 3820, 3850, 3880, 3910, 3940, 3970, 4000, 4030,
          4060, 4090, 4120, 4150, 4181, 4221, 4280, 4325, 4369, 4469, 4500, 4530, 4560, 4590, 4620, 4650,
          4700, 4757, 4849, 4909, 4940, 4986, 5026, 5060, 5090, 5120, 5150, 5180, 5210, 5250, 5298, 5330,
          5360, 5390, 5420, 5450, 5480, 5510, 5540, 5570, 5600, 5630, 5660, 5690, 5720, 5750, 5780, 5810,
          5840, 5870, 5900, 5930, 5960, 5990, 6020, 6050, 6100, 6158, 6178, 6210, 6240, 6270, 6300, 6330,
          6360, 6390, 6420, 6450, 6480, 6510, 6540, 6570, 6600, 6630, 6660, 6690, 6720, 6750, 6780, 6810,
          6840, 6870, 6900, 6930, 6960, 6990, 7020, 7050, 7080, 7110, 7140, 7170, 7200, 7230, 7260, 7320,
          7378, 7506, 7540, 7570, 7600, 7630, 7660, 7690, 7720, 7750, 7780, 7810, 7840, 7870, 7910, 7958,
          7986, 8020, 8050, 8080, 8110, 8140, 8170, 8200, 8230, 8260, 8290, 8340, 8398, 8478, 8510, 8540,
          8570, 8600, 8630, 8660, 8690, 8720, 8750, 8780, 8810, 8840, 8870, 8900, 8930, 8960, 8990, 9020,
          9050, 9080, 9110, 9140, 9190, 9238, 9266, 9300, 9330, 9360, 9390, 9420, 9450, 9495, 9538, 9586,
          9620, 9650, 9680, 9710, 9740, 9770, 9800, 9843]
x_6118 = [29, 89, 269, 330, 389, 437, 500, 560, 620, 680, 740, 800, 849, 941, 1049, 1110, 1169, 1329, 1389,
          1449, 1549, 1649, 1710, 1770, 1830, 1890, 1950, 2010, 2109, 2317, 2389, 2489, 2569, 2669,
          2730, 2849, 3009, 3149, 3249, 3341, 3409, 3557, 3669, 3769, 3869, 3949, 4010, 4070, 4130,
          4249, 4329, 4390, 4450, 4529, 4629, 4749, 4810, 4870, 4909,
          4898, 4960, 5038, 5158, 5238, 5318, 5418, 5480, 5538, 5618, 5718, 5798, 5930, 5990, 6050,
          6110, 6170, 6230, 6290, 6358, 6458, 6520, 6626, 6698, 6760, 6826, 6898, 6978, 7038, 7158,
          7220, 7280, 7340, 7438, 7498, 7578, 7678, 7730, 7806, 7878, 7940, 8058, 8306, 8418, 8490,
          8598, 8660, 8720, 8798, 8878, 8958, 9058, 9120, 9178, 9250, 9330, 9538, 9600, 9660, 9720,
          9780, 9843]
x_6117 = [161, 329, 390, 469, 661, 841, 929, 989, 1097, 1157, 1220, 1280, 1340, 1400, 1460, 1520, 1580,
          1640, 1700, 1760, 1820, 1880, 1961, 2117, 2181, 2240, 2300, 2360, 2420, 2480, 2540, 2589,
          2821, 3041, 3129, 3189, 3329, 3389, 3477, 3540, 3609, 3709, 3869, 3969, 4157, 4229, 4301,
          4369, 4430, 4490, 4550, 4610, 4670, 4730, 4790, 4850, 4909,
          5078, 5140, 5200, 5260, 5320, 5418, 5518, 5638, 5700, 5798, 5946, 6038, 6100, 6160, 6238,
          6318, 6390, 6458, 6520, 6626, 6738, 6800, 6860, 6918, 7026, 7126, 7198, 7318, 7380, 7440,
          7500, 7560, 7620, 7680, 7740, 7798, 7858, 7920, 7980, 8040, 8100, 8178, 8298, 8398, 8478,
          8540, 8600, 8660, 8720, 8798, 8970, 9086, 9286, 9438, 9718, 9798, 9843]
x_6116 = [149, 349, 400, 449, 509, 581, 689, 809, 870, 930, 990, 1050, 1109, 1169, 1229, 1349, 1420,
          1509, 1609, 1669, 1809, 1877, 2057, 2141, 2549, 2649, 2689, 2789, 2897, 2969, 3109, 3181,
          3289, 3369, 3889, 3969, 4277, 4409, 4469, 4609, 4670, 4729, 4849,
          4918, 5058, 5146, 5218, 5298, 5330, 5386, 5466, 5550, 5698, 5738, 5878, 5946, 6058, 6120,
          6190, 6258, 6386, 6450, 6518, 6658, 6790, 6858, 7038, 7078, 7198, 7270, 7338, 7446, 7606,
          7686, 7850, 7938, 8106, 8238, 8490, 8560, 8638, 8826, 9390, 9638, 9686]
x_6115 = [5, 69, 197, 289, 349, 449, 510, 569, 657, 857, 997, 1089, 1205, 1369, 1445, 1609, 1701, 2081,
          2381, 2449, 2510, 2557, 2701, 2797, 3069, 3269, 3349, 3420, 3489, 3569, 3630, 3690, 3729,
          3797, 3861, 3989, 4077, 4229, 4301, 4350, 4397, 4461, 4549, 4610, 4670, 4729, 4809, 4889,
          4918, 4978, 5066, 5158, 5266, 5330, 5470, 5586, 5738, 5810, 5898, 6058, 6166, 6238, 6300,
          6370, 6438, 6578, 6626, 6678, 6740, 6798, 6978, 7298, 7398, 7478, 7598, 7678, 7718, 7818,
          7926, 8038, 8138, 8210, 8298, 8350, 8398, 8478, 8566, 8678, 8738, 8818, 8910, 9486, 9618, 9722]
x_6114 = [185, 497, 617, 785, 1229, 1337, 1565, 1745, 2081, 2369, 2449, 2509, 2589, 2629, 2717, 3245,
          3449, 3629, 4025, 4121, 4329, 4400, 4469, 4529, 4729, 4789, 4869,
          4998, 5050, 5098, 5226, 5358, 5458, 5518, 5658, 5718, 5858, 5920, 5980, 6018, 6098, 6198,
          6646, 6700, 6770, 6850, 6958, 7026, 7118, 7180, 7278, 7386, 7506, 7578, 7986, 8106, 8238,
          8378, 8458, 8586, 8678, 8740, 8800, 8860, 8958, 9026, 9246, 9338, 9418, 9558, 9658, 9738,
          9818, 9843]
x_6113 = [17, 425, 701, 1097, 1445, 1625, 1841, 2105, 2333, 2933, 3077, 3469, 3529, 3609, 4249, 4289,
          4357, 4421, 4517, 4733, 4829, 4909,
          4918, 5186, 5238, 5466, 5638, 5690, 5810, 5838, 5898, 5970, 6170, 6218, 6338, 6410, 6534,
          6690, 6786, 6826, 7014, 7238, 7302, 7602, 7978, 8018, 8166, 8378, 8450, 8678, 8730, 8778,
          8862, 9018, 9138, 9258, 9558, 9706, 9762]
x_6112 = [17, 113, 325, 545, 989, 1181, 1329, 1389, 1517, 1721, 2093, 2273, 2357, 2741, 3029, 3581,
          3905, 4049, 4137, 4257, 4325, 4421, 4721, 4789, 4840, 4889,
          4986, 5118, 5178, 5246, 5398, 5694, 5862, 5946, 6066, 6546, 6598, 6678, 6978, 7106, 7158,
          7662, 7794, 7902, 8218, 8266, 8598, 8638, 8918, 8970, 9246, 9646, 9686, 9774]
x_6111 = [353, 413, 533, 629, 929, 1025, 1169, 1230, 1289, 1769, 2009, 2369, 2657, 2801, 2945, 3053,
          3209, 3329, 3485, 3593, 4133, 4301, 4649, 4709, 4805,
          5046, 5130, 5178, 5550, 5766, 5918, 5970, 6018, 6090, 6498, 6594, 6758, 6810, 6858, 7098,
          7138, 7218, 7298, 7498, 7558, 7710, 8022, 8198, 8260, 8320, 8380, 8438, 8490, 8610, 8766,
          8886, 9450, 9582, 9762]
x_6110 = [101, 209, 249, 889, 1049, 1169, 1361, 1449, 1469, 1589, 1889, 1929, 1997, 2177, 2549, 2657,
          2809, 2869, 2949, 2989, 3069, 3401, 3497, 3641, 3749, 4037, 4245, 4349, 4433, 4829, 4889,
          4910, 5098, 5146, 5310, 5786, 6018, 6150, 6298, 6338, 6414, 6786, 6858, 6898, 7038, 7086,
          7326, 7458, 7518, 7782, 8010, 8394, 8466, 8586, 8706, 8778, 8862, 9038, 9078]
x_6109 = [473, 609, 629, 1253, 1493, 1949, 2869, 3017, 3209, 3773, 3941, 4025, 4517,
          4986, 5038, 5826, 6282, 6714, 7434, 7554, 8358, 8420, 8498, 8726, 9702, 9798, 9838]
x_6108 = [245, 1601, 1793, 2417, 2585, 2681, 3005, 3089, 3221, 3665, 3797, 4073,
          4926, 5166, 5334, 5586, 5838, 6998, 7074, 7518, 7830, 8118]
x_6107 = [953, 1109, 1481, 1517, 3545, 3713, 3917, 4265,
          5406, 6258, 7338, 7398, 8034, 8926, 8986, 9034, 9654]
x_6106 = [2957, 3021, 3281, 4001, 4697, 5274, 5418, 6066, 6654, 6882, 8345, 8370, 9786]
x_6105 = [1049, 1385, 4397, 5346, 5442, 7218, 7674, 8742]
x_6104 = [29, 1145, 3341, 3737, 4685, 5010, 5178, 6114, 7278, 8130]
x_6103 = [3569, 5646]
x_6102 = [1037, 2261, 2281, 4025, 4445, 6234]
x_6100 = [3305, 6378, 9462]
x_6098 = [293, 1517, 4409, 7014]
x_6096 = [3377]
x_6095 = [4481]

levels = [6160, 6158, 6157, 6156, 6155, 6154, 6153, 6152, 6151, 6150, 6149, 6148, 6147, 6146,
          6145, 6144, 6143, 6142, 6141, 6140, 6139, 6138, 6137, 6136, 6135, 6134, 6133, 6132,
          6131, 6130, 6129, 6128, 6127, 6126, 6125, 6124, 6123, 6122, 6121, 6120, 6119, 6118,
          6117, 6116, 6115, 6114, 6113, 6112, 6111, 6110, 6109, 6108, 6107, 6106, 6105, 6104,
          6103, 6102, 6100, 6098, 6096, 6095]
rows = [x_6160, x_6158, x_6157, x_6156, x_6155, x_6154, x_6153, x_6152, x_6151, x_6150, x_6149,
        x_6148, x_6147, x_6146, x_6145, x_6144, x_6143, x_6142, x_6141, x_6140, x_6139, x_6138,
        x_6137, x_6136, x_6135, x_6134, x_6133, x_6132, x_6131, x_6130, x_6129, x_6128, x_6127,
        x_6126, x_6125, x_6124, x_6123, x_6122, x_6121, x_6120, x_6119, x_6118, x_6117, x_6116,
        x_6115, x_6114, x_6113, x_6112, x_6111, x_6110, x_6109, x_6108, x_6107, x_6106, x_6105,
        x_6104, x_6103, x_6102, x_6100, x_6098, x_6096, x_6095]

samples = np.concatenate([np.array(r, dtype=float) for r in rows])
counts = np.concatenate([np.full(len(r), lv, dtype=float) for lv, r in zip(levels, rows)])

plt.figure(figsize=(10, 10))
plt.plot(samples, counts, 'k.',
         label='Samples\n$\\mu$ = {:.2f}, $\\sigma$ = {:.2f}'.format(MU, SIGMA))
plt.title('Run {}, {}, Pedestal'.format(RUN, CHANNEL))
plt.xlabel('Sample #')
plt.ylabel('ADC Counts')
plt.grid(True)
plt.legend(loc='upper right')
plt.subplots_adjust(left=0.081, right=0.985, top=0.965, bottom=0.059)
plt.savefig('out.png', dpi=100)
